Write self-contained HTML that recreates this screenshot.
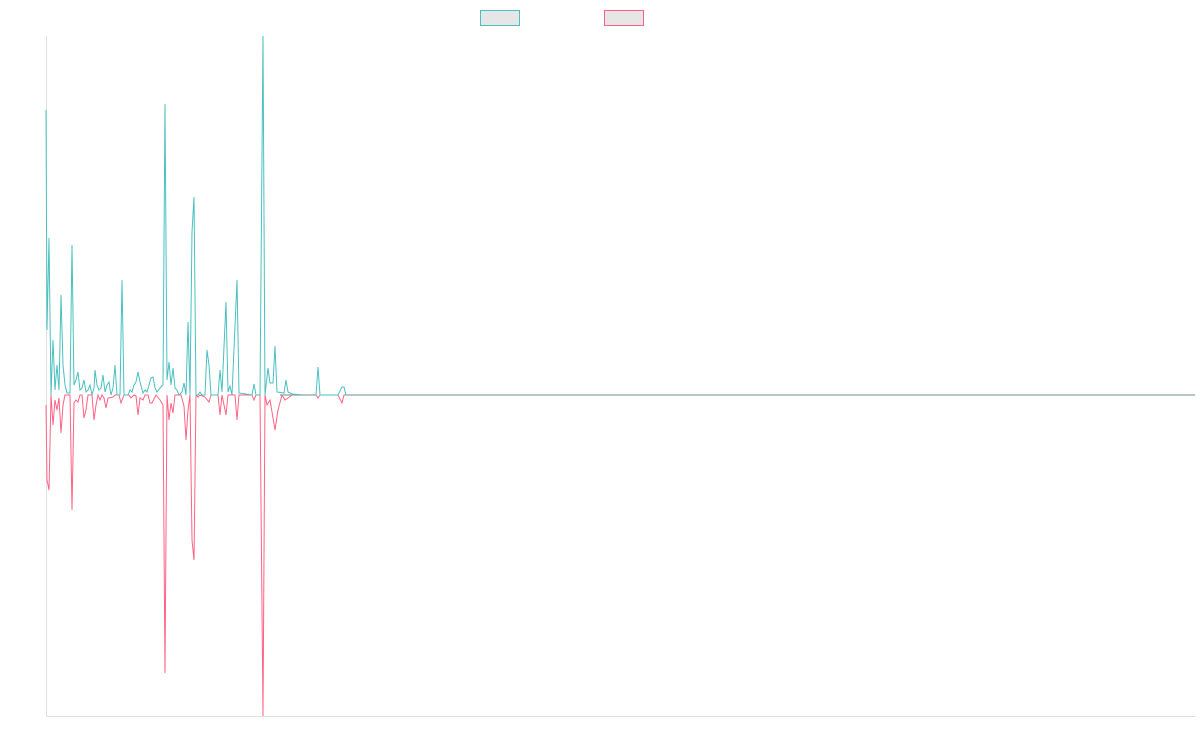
<!DOCTYPE html>
<html><head><meta charset="utf-8"><style>
html,body{margin:0;padding:0;background:#fff;width:1200px;height:750px;overflow:hidden}
</style></head><body>
<svg width="1200" height="750" xmlns="http://www.w3.org/2000/svg">
<rect x="480.5" y="10.5" width="39" height="15" fill="#e6e6e6" stroke="#4bc0c0" stroke-width="1"/>
<rect x="604.5" y="10.5" width="39" height="15" fill="#e6e6e6" stroke="#ff6384" stroke-width="1"/>
<line x1="46.5" y1="36" x2="46.5" y2="716" stroke="#e0e0e0"/>
<line x1="46" y1="716.5" x2="1195" y2="716.5" stroke="#e0e0e0"/>
<polyline fill="none" stroke="#ff6384" stroke-width="1" points="46,405 47,480 49,490 51,395 53,425 55,400 57,410 59,398 61,433 63,405 65,395 70,395 72,510 74,403 76,400 78,402 80,395 82,395 84,418 86,410 88,395 92,395 94,420 96,405 98,395 100,400 102,395 104,398 106,408 108,398 113,397 115,395 119,395 121,403 124,395 129,395 131,398 134,395 136,396 138,415 140,398 143,400 145,395 148,395 150,403 152,403 156,395 160,400 163,405 165,673 167,395 169,420 171,403 173,413 175,395 181,395 184,406 186,440 188,410 190,395 192,540 194,560 196,395 198,397 200,395 205,397 209,402 211,395 218,395 220,415 222,395 226,415 228,395 235,395 237,420 239,395 252,395 254,400 256,395 260,395 263,716 265,395 267,405 270,400 275,430 278,410 282,395 285,400 288,398 292,395 316,395 318,398 320,395 338,395 342,403 344,395 1195,395"/>
<polyline fill="none" stroke="#4bc0c0" stroke-width="1" points="46,110 47,330 49,238 51,395 53,340 55,390 57,365 59,390 61,295 63,365 65,385 67,393 70,393 72,245 74,385 76,380 78,372 80,390 82,388 84,380 86,392 88,390 90,385 92,395 94,388 95,370 97,385 99,390 101,388 103,375 105,392 107,385 109,382 111,395 113,388 115,365 117,395 120,395 122,280 124,395 128,395 130,390 132,392 134,385 136,382 138,372 140,382 143,393 145,390 147,392 149,385 151,378 153,377 155,388 157,392 160,388 163,385 165,104 167,380 169,362 171,385 173,368 175,388 177,390 179,395 182,392 184,383 186,395 188,322 190,395 192,232 194,197 196,395 198,395 200,392 202,395 205,395 207,350 209,365 211,395 218,395 220,370 222,392 226,302 228,392 230,386 232,395 237,280 239,393 252,395 254,384 256,395 260,395 263,36 265,395 268,368 270,383 273,383 275,346 277,392 284,393 286,380 288,392 292,394 303,395 316,395 318,367 320,395 338,395 342,387 344,387 346,395 1195,395"/>
<line x1="347" y1="395" x2="1195" y2="395" stroke="#8aa4a8" stroke-width="1.2"/>
<line x1="280" y1="395" x2="316" y2="395" stroke="#8aa4a8" stroke-width="1.2"/>
</svg>
</body></html>
